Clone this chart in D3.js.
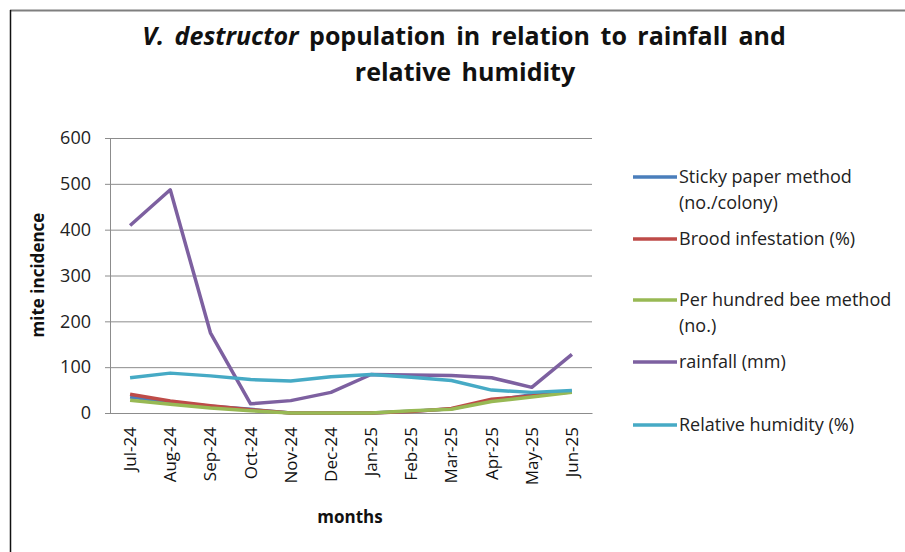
<!DOCTYPE html>
<meta charset="utf-8">
<style>
body { margin: 0; background: #fff; }
svg { font-family: 'Open Sans', sans-serif; }
.grid line { stroke: #8c8c8c; }
</style>
<body>
<script src="https://d3js.org/d3.v7.min.js"></script>
<script>

// data
var months = ["Jul-24","Aug-24","Sep-24","Oct-24","Nov-24","Dec-24","Jan-25","Feb-25","Mar-25","Apr-25","May-25","Jun-25"];
var sticky   = [35, 24, 15, 8, 0, 0, 0, 4, 9, 27, 40, 46];
var brood    = [41, 26, 16, 7, 0, 0, 0, 3, 10, 30, 37, 47];
var hundred  = [28, 19, 11, 5, 0, 0, 0, 5, 8, 25, 35, 45];
var rainfall = [409, 487, 175, 20, 27, 45, 84, 83, 82, 77, 56, 128];
var humidity = [77, 87, 81, 73, 70, 79, 84, 78, 71, 50, 45, 49];
var yTicks = [0, 100, 200, 300, 400, 500, 600];

var series = [
  {name: ["Sticky paper method", "(no./colony)"], values: sticky, color: "#4a7ebb", ly: 177},
  {name: ["Brood infestation (%)"], values: brood, color: "#be4b48", ly: 239},
  {name: ["Per hundred bee method", "(no.)"], values: hundred, color: "#98b954", ly: 300},
  {name: ["rainfall (mm)"], values: rainfall, color: "#7d60a0", ly: 362},
  {name: ["Relative humidity (%)"], values: humidity, color: "#46aac5", ly: 425}
];

var W = 905, H = 552;
var plotL = 110, plotR = 592, plotT = 138, plotB = 413;

var svg = d3.select("body").append("svg")
    .attr("width", W)
    .attr("height", H);

// chart frame
svg.append("line").attr("x1", 10).attr("x2", W).attr("y1", 10.5).attr("y2", 10.5)
    .attr("stroke", "#7f7f7f").attr("stroke-width", 2);
svg.append("line").attr("x1", 10.5).attr("x2", 10.5).attr("y1", 10).attr("y2", H)
    .attr("stroke", "#111").attr("stroke-width", 1.5);

var x = d3.scaleBand().domain(months).range([plotL, plotR]);
var y = d3.scaleLinear().domain([0, 600]).range([plotB, plotT]);

// gridlines
svg.append("g")
    .attr("class", "grid")
    .attr("transform", "translate(" + plotL + ",0)")
    .call(d3.axisLeft(y).tickValues(yTicks).tickSize(-(plotR - plotL)).tickFormat(""))
    .call(function(g) { g.select(".domain").remove(); });

// y axis
var yAxis = svg.append("g")
    .attr("transform", "translate(" + plotL + ",0)")
    .call(d3.axisLeft(y).tickValues(yTicks).tickSize(5).tickPadding(14));
yAxis.select(".domain").attr("stroke", "#8c8c8c");
yAxis.selectAll(".tick line").attr("stroke", "#8c8c8c");
yAxis.selectAll("text").attr("font-size", 18).attr("fill", "#222")
    .attr("font-family", "'Open Sans', sans-serif");

// x axis
var xAxis = svg.append("g")
    .attr("transform", "translate(0," + plotB + ")")
    .call(d3.axisBottom(x).tickSize(0).tickPadding(0));
xAxis.select(".domain").attr("stroke", "#8c8c8c");
xAxis.selectAll("text")
    .attr("font-size", 17).attr("fill", "#111")
    .attr("font-family", "'Open Sans', sans-serif")
    .attr("text-anchor", "end")
    .attr("dy", null)
    .attr("transform", "translate(6,14) rotate(-90)");

// lines
var line = d3.line()
    .x(function(d, i) { return x(months[i]) + x.bandwidth() / 2; })
    .y(function(d) { return y(d); });

series.forEach(function(s) {
  svg.append("path")
      .datum(s.values)
      .attr("fill", "none")
      .attr("stroke", s.color)
      .attr("stroke-width", 3.5)
      .attr("stroke-linejoin", "round")
      .attr("d", line);
});

// title
var title = svg.append("text")
    .attr("text-anchor", "middle")
    .attr("font-size", 25)
    .attr("font-weight", "bold")
    .attr("word-spacing", 4)
    .attr("fill", "#111");
var t1 = title.append("tspan").attr("x", 464).attr("y", 45);
t1.append("tspan").attr("font-style", "italic").text("V. destructor");
t1.append("tspan").text(" population in relation to rainfall and");
title.append("tspan").attr("x", 465).attr("y", 81).text("relative humidity");

// axis titles
svg.append("text")
    .attr("transform", "translate(44,275) rotate(-90)")
    .attr("text-anchor", "middle")
    .attr("font-size", 17)
    .attr("font-weight", "bold")
    .attr("fill", "#111")
    .text("mite incidence");

svg.append("text")
    .attr("x", 350).attr("y", 523)
    .attr("text-anchor", "middle")
    .attr("font-size", 17)
    .attr("font-weight", "bold")
    .attr("fill", "#111")
    .text("months");

// legend
var legend = svg.append("g");
series.forEach(function(s) {
  legend.append("line")
      .attr("x1", 633).attr("x2", 677)
      .attr("y1", s.ly).attr("y2", s.ly)
      .attr("stroke", s.color).attr("stroke-width", 3.5);
  var txt = legend.append("text")
      .attr("font-size", 18)
      .attr("fill", "#222");
  s.name.forEach(function(n, i) {
    txt.append("tspan")
        .attr("x", 679)
        .attr("y", s.ly + 6 + i * 26)
        .text(n);
  });
});

</script>
</body>
